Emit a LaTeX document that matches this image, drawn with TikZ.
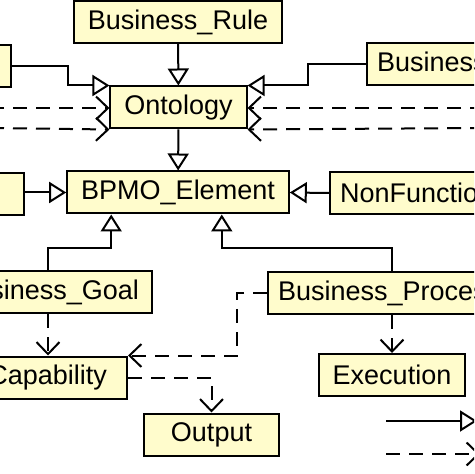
\documentclass[tikz,border=0pt]{standalone}
\usepackage{fontspec}
\setmainfont{Liberation Sans}
\usetikzlibrary{arrows.meta,calc}

\begin{document}
\begin{tikzpicture}[x=0.5pt, y=-0.5pt, line width=1pt,
	every node/.style={font=\fontsize{13.5}{16}\selectfont},
	box/.style={draw, line width=1pt, fill=yellow!20, inner xsep=7pt, inner ysep=0pt, minimum height=21pt},
	cut/.style={box, inner xsep=5pt},
	gen/.style={-{Triangle[open, fill=white, length=8.5pt, width=10.5pt]}},
	dep/.style={dash pattern=on 7pt off 4.5pt, -{Straight Barb[length=6pt, width=11.5pt]}}]
	\useasboundingbox (0,0) rectangle (474,474);
	\clip (0,0) rectangle (474,474);
	% classes
	\node[box] (rule) at (178,22) {Business\_Rule};
	\node[box, anchor=east, minimum width=75pt] (tl) at (12,66) {};
	\node[cut, anchor=west] (tr) at (366,64.5) {Business\_Domain};
	\node[box] (onto) at (178.5,107.5) {Ontology};
	\node[box] (bpmo) at (178,192.5) {BPMO\_Element};
	\node[box, anchor=east, minimum width=60pt] (lb) at (25,194) {};
	\node[cut, anchor=west] (nf) at (329,193) {NonFunctional};
	\node[cut, anchor=east, inner xsep=6.5pt] (goal) at (153,292) {Business\_Goal};
	\node[cut, anchor=west] (proc) at (267,293) {Business\_Process};
	\node[cut, anchor=east, inner xsep=10pt] (cap) at (128,377.5) {Capability};
	\node[box] (exec) at (392,375) {Execution};
	\node[box, minimum width=67.5pt] (out) at (211.5,434.5) {Output};
	% free ends
	\coordinate (gx) at (48,0);
	\coordinate (px) at (392,0);
	\coordinate (dl1) at (-10,108);
	\coordinate (dl2) at (-10,128);
	\coordinate (dr1) at (484,108);
	\coordinate (dr2) at (484,128);
	\coordinate (ls1) at (386,421);
	\coordinate (le1) at (477,421);
	\coordinate (ls2) at (386,454);
	\coordinate (le2) at (480,454);
	% generalisation
	\draw[gen] (rule) -- (onto);
	\draw[gen] (tl.east) -- ++(56,0) |- (onto.north west);
	\draw[gen] (tr.west) -- ++(-58,0) |- (onto.north east);
	\draw[gen] (onto) -- (bpmo);
	\draw[gen] (lb.east |- bpmo.west) -- (bpmo.west);
	\draw[gen] (nf.west) -- (bpmo.east);
	\draw[gen] (goal.north -| gx) -- ++(0,-22) -| ($(bpmo.south west)+(45,0)$);
	\draw[gen] (proc.north -| px) -- ++(0,-23) -| ($(bpmo.south east)+(-68,0)$);
	% dependencies
	\draw[dep] (dl1) -- (onto.west |- dl1);
	\draw[dep] (dl2) -- (onto.south west);
	\draw[dep] (dr1) -- (onto.east |- dr1);
	\draw[dep] (dr2) -- (onto.south east);
	\draw[dep] (goal.south -| gx) -- (cap.north -| gx);
	\draw[dep] (proc.west) -- ++(-30,0) |- (cap.north east);
	\draw[dep] (cap.east) -| (out.north);
	\draw[dep] (proc.south -| px) -- (exec.north);
	% legend
	\draw[gen] (ls1) -- (le1);
	\draw[dep] (ls2) -- (le2);
\end{tikzpicture}
\end{document}
